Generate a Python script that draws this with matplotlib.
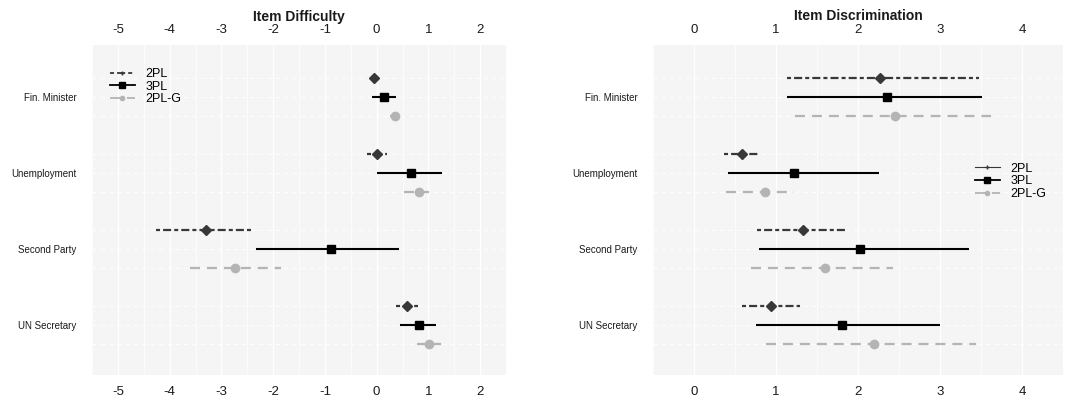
import numpy as np
import matplotlib.pyplot as plt
from matplotlib.lines import Line2D

plt.rcParams['font.family'] = ['Liberation Sans', 'DejaVu Sans']
plt.rcParams['lines.scale_dashes'] = False

# ===================== data =====================

items = ["Fin. Minister", "Unemployment", "Second Party", "UN Secretary"]
models = ["2PL", "3PL", "2PL-G"]

# item difficulty: rows = models (2PL, 3PL, 2PL-G), cols = items
diff_est = [[-0.05, 0.00, -3.29, 0.59],
            [0.14, 0.67, -0.89, 0.82],
            [0.35, 0.82, -2.73, 1.01]]
diff_lo = [[-0.09, -0.19, -4.27, 0.37],
           [-0.09, 0.00, -2.33, 0.45],
           [0.25, 0.52, -3.60, 0.78]]
diff_hi = [[-0.01, 0.20, -2.42, 0.79],
           [0.38, 1.26, 0.43, 1.14],
           [0.43, 1.01, -1.85, 1.25]]

# item discrimination
disc_est = [[2.27, 0.58, 1.33, 0.94],
            [2.35, 1.22, 2.03, 1.81],
            [2.45, 0.87, 1.60, 2.20]]
disc_lo = [[1.13, 0.37, 0.77, 0.58],
           [1.13, 0.41, 0.79, 0.75],
           [1.23, 0.39, 0.69, 0.88]]
disc_hi = [[3.47, 0.80, 1.88, 1.29],
           [3.51, 2.26, 3.35, 3.00],
           [3.62, 1.22, 2.43, 3.44]]

# ===================== styles =====================

col = {"2PL": "#383838", "3PL": "#000000", "2PL-G": "#b4b4b4"}
ls = {"2PL": (0, (2.9, 2.2, 5.8, 2.2)), "3PL": "solid", "2PL-G": (0, (7.2, 5.0))}
mk = {"2PL": "D", "3PL": "s", "2PL-G": "o"}
ms = {"2PL": 5.5, "3PL": 5.5, "2PL-G": 6}
offs = {"2PL": 0.25, "3PL": 0.0, "2PL-G": -0.25}
bg = "#f5f5f5"
txt = "#1a1a1a"

ypos = np.array([4, 3, 2, 1], dtype=float)

fig = plt.figure(figsize=(10.67, 4.07), dpi=100)
ax1 = fig.add_axes([92 / 1067, 32 / 407, 414 / 1067, 330 / 407])
ax2 = fig.add_axes([653 / 1067, 32 / 407, 410 / 1067, 330 / 407])


def draw_panel(ax, est, lo, hi, xlim, xticks):
    ax.set_facecolor(bg)
    for s in ax.spines.values():
        s.set_visible(False)
    ax.set_xlim(*xlim)
    ax.set_ylim(0.34, 4.68)
    ax.set_xticks(xticks)
    ax.set_xticks(np.arange(xticks[0] - 0.5, xticks[-1] + 1, 1.0), minor=True)
    ax.set_xticklabels([str(t) for t in xticks])
    ax.set_yticks(ypos)
    ax.set_yticklabels(items)
    ax.tick_params(axis='x', which='both', length=0, labelsize=9.5, pad=7.6,
                   colors=txt)
    ax.tick_params(axis='y', length=0, labelsize=7, pad=11, colors=txt)
    # same ticks repeated on top
    top = ax.secondary_xaxis('top')
    top.set_xticks(xticks)
    top.set_xticklabels([str(t) for t in xticks])
    top.tick_params(length=0, labelsize=9.5, pad=6.3, colors=txt)
    for s in top.spines.values():
        s.set_visible(False)
    ax.grid(axis='x', which='major', color='white', lw=1.0)
    ax.grid(axis='x', which='minor', color='white', lw=0.5)
    # dashed horizontal guides at every row
    for m in models:
        for y in ypos + offs[m]:
            ax.axhline(y, color='white', lw=0.6, ls=(0, (3, 3)), zorder=0.5)
    ax.set_axisbelow(True)
    for i, m in enumerate(models):
        y = ypos + offs[m]
        lw = 1.5 if m == "3PL" else 1.6
        ax.hlines(y, lo[i], hi[i], colors=col[m], linestyles=ls[m], lw=lw, zorder=2)
        ax.plot(est[i], y, ls='none', marker=mk[m], ms=ms[m], color=col[m], zorder=3)


draw_panel(ax1, diff_est, diff_lo, diff_hi, (-5.28, 2.29), list(range(-5, 3)))
draw_panel(ax2, disc_est, disc_lo, disc_hi, (-0.16, 4.17), list(range(0, 5)))

fig.text((92 + 506) / 2 / 1067, 1 - 16.5 / 407, "Item Difficulty", ha='center',
         va='center', fontsize=10, fontweight='bold', color=txt)
fig.text((653 + 1063) / 2 / 1067, 1 - 16.5 / 407, "Item Discrimination", ha='center',
         va='center', fontsize=10, fontweight='bold', color=txt)

# legends
h1 = [Line2D([], [], color=col[m], ls=ls[m], lw=1.3, marker=mk[m],
             ms=3 if m != "3PL" else 4.5) for m in models]
h1[0].set_marker('+')
ax1.legend(h1, models, loc='upper left', bbox_to_anchor=(0.043, 0.93),
           frameon=False, fontsize=9, handlelength=2.0, handletextpad=0.85,
           labelspacing=0.05, borderpad=0, borderaxespad=0)

h2 = [Line2D([], [], color=col[m], ls='solid' if m == "2PL" else ls[m],
             lw=0.8 if m == "2PL" else 1.3, marker=mk[m],
             ms=3 if m != "3PL" else 4.5) for m in models]
h2[0].set_marker('+')
ax2.legend(h2, models, loc='upper left', bbox_to_anchor=(0.785, 0.643),
           frameon=False, fontsize=9, handlelength=2.0, handletextpad=0.85,
           labelspacing=0.05, borderpad=0, borderaxespad=0)

fig.savefig("out.png", dpi=100, facecolor='white')
